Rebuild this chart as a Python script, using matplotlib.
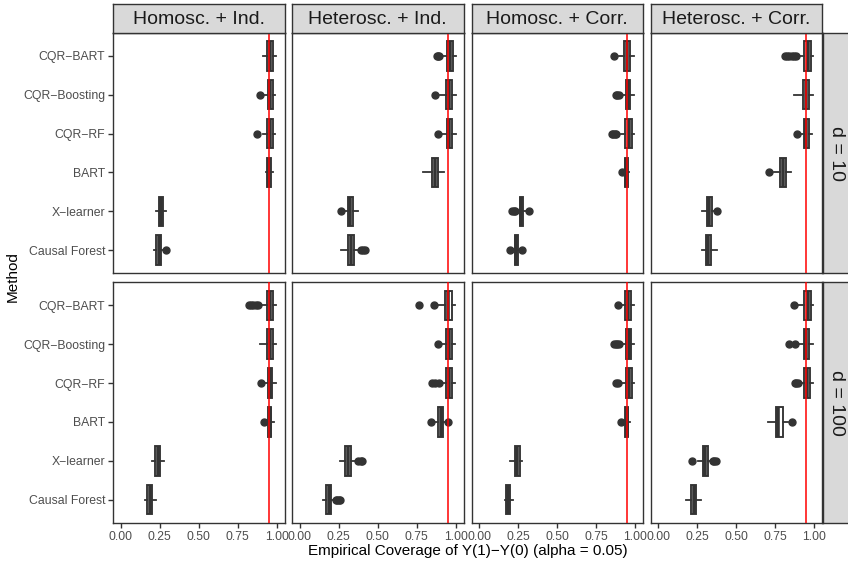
import matplotlib
matplotlib.use("Agg")
import matplotlib.pyplot as plt

plt.rcParams['font.family'] = ['Liberation Sans', 'DejaVu Sans']

methods = ["CQR−BART", "CQR−Boosting", "CQR−RF", "BART", "X−learner", "Causal Forest"]
columns = ["Homosc. + Ind.", "Heterosc. + Ind.", "Homosc. + Corr.", "Heterosc. + Corr."]
rows = ["d = 10", "d = 100"]
target = 0.95

# (whisker low, q1, median, q3, whisker high) per method, in order of `methods`
d10_hom_ind = [(0.91, 0.94, 0.958, 0.976, 0.995), (0.91, 0.944, 0.96, 0.976, 0.99),
               (0.91, 0.94, 0.958, 0.976, 0.99), (0.933, 0.94, 0.95, 0.963, 0.975),
               (0.224, 0.246, 0.258, 0.269, 0.29), (0.212, 0.229, 0.243, 0.258, 0.276)]
d10_hom_ind_out = [[], [0.893], [0.876], [], [], [0.29]]

d10_het_ind = [(0.91, 0.946, 0.962, 0.981, 0.999), (0.90, 0.94, 0.957, 0.974, 0.999),
               (0.91, 0.942, 0.96, 0.976, 0.999), (0.792, 0.846, 0.865, 0.884, 0.927),
               (0.285, 0.306, 0.322, 0.342, 0.375), (0.263, 0.31, 0.328, 0.347, 0.379)]
d10_het_ind_out = [[0.878, 0.885, 0.892], [0.867], [0.888], [], [0.263], [0.395, 0.405, 0.418]]

d10_hom_corr = [(0.896, 0.93, 0.95, 0.969, 0.992), (0.917, 0.939, 0.955, 0.969, 0.99),
                (0.909, 0.937, 0.957, 0.977, 0.994), (0.93, 0.935, 0.944, 0.952, 0.958),
                (0.245, 0.258, 0.268, 0.279, 0.30), (0.206, 0.228, 0.238, 0.249, 0.27)]
d10_hom_corr_out = [[0.864], [0.878, 0.886, 0.894], [0.85, 0.86, 0.87, 0.88], [0.913],
                    [0.21, 0.22, 0.23, 0.322], [0.194, 0.277]]

d10_het_corr = [(0.898, 0.937, 0.958, 0.979, 0.994), (0.87, 0.926, 0.948, 0.967, 0.99),
                (0.909, 0.934, 0.95, 0.967, 0.988), (0.744, 0.778, 0.80, 0.819, 0.851),
                (0.282, 0.314, 0.328, 0.342, 0.363), (0.282, 0.303, 0.318, 0.335, 0.378)]
d10_het_corr_out = [[0.81, 0.825, 0.84, 0.855, 0.87, 0.885], [], [0.887], [0.71], [0.374], []]

d100_hom_ind = [(0.89, 0.938, 0.958, 0.976, 0.993), (0.895, 0.938, 0.958, 0.976, 0.998),
                (0.923, 0.942, 0.958, 0.972, 0.998), (0.934, 0.944, 0.955, 0.966, 0.98),
                (0.201, 0.222, 0.238, 0.252, 0.278), (0.154, 0.171, 0.185, 0.199, 0.229)]
d100_hom_ind_out = [[0.82, 0.835, 0.85, 0.865, 0.88], [], [0.902], [0.921], [], []]

d100_het_ind = [(0.888, 0.931, 0.952, 0.974, 0.995), (0.91, 0.94, 0.96, 0.978, 0.995),
                (0.91, 0.94, 0.958, 0.974, 0.995), (0.857, 0.888, 0.903, 0.918, 0.942),
                (0.259, 0.291, 0.31, 0.328, 0.358), (0.15, 0.171, 0.188, 0.203, 0.22)]
d100_het_ind_out = [[0.766, 0.861], [0.888], [0.85, 0.87, 0.89], [0.841, 0.95],
                    [0.375, 0.39, 0.40], [0.23, 0.24, 0.25, 0.26]]

d100_hom_corr = [(0.913, 0.937, 0.955, 0.971, 0.994), (0.91, 0.941, 0.958, 0.973, 0.99),
                 (0.91, 0.939, 0.958, 0.977, 0.994), (0.924, 0.937, 0.945, 0.954, 0.967),
                 (0.20, 0.228, 0.243, 0.258, 0.275), (0.162, 0.17, 0.182, 0.194, 0.213)]
d100_hom_corr_out = [[0.892], [0.865, 0.875, 0.885, 0.895], [0.88, 0.89], [0.909], [], []]

d100_het_corr = [(0.898, 0.937, 0.958, 0.977, 0.99), (0.887, 0.932, 0.95, 0.968, 0.994),
                 (0.902, 0.937, 0.955, 0.973, 0.99), (0.705, 0.755, 0.77, 0.797, 0.834),
                 (0.252, 0.284, 0.30, 0.316, 0.342), (0.177, 0.209, 0.226, 0.243, 0.271)]
d100_het_corr_out = [[0.872], [0.838, 0.877], [0.875, 0.885, 0.895], [0.859],
                     [0.213, 0.35, 0.36, 0.37], []]

panels = [[(d10_hom_ind, d10_hom_ind_out), (d10_het_ind, d10_het_ind_out),
           (d10_hom_corr, d10_hom_corr_out), (d10_het_corr, d10_het_corr_out)],
          [(d100_hom_ind, d100_hom_ind_out), (d100_het_ind, d100_het_ind_out),
           (d100_hom_corr, d100_hom_corr_out), (d100_het_corr, d100_het_corr_out)]]

W, H = 848, 565
fig = plt.figure(figsize=(W / 100, H / 100), dpi=100)


def rect(x0, y0, w, h):
    return [x0 / W, 1 - (y0 + h) / H, w / W, h / H]


col_left = [113, 292, 471.5, 650.5]
col_w = 171.5
row_top = [32.5, 282]
row_h = 241
dark = "#333333"
grey_txt = "#4D4D4D"

ypos = list(range(len(methods), 0, -1))

for r in range(2):
    for c in range(4):
        ax = fig.add_axes(rect(col_left[c], row_top[r], col_w, row_h))
        stats, outs = panels[r][c]
        bx = []
        for (lo, q1, med, q3, hi), fl in zip(stats, outs):
            bx.append(dict(whislo=lo, q1=q1, med=med, q3=q3, whishi=hi, fliers=fl))
        ax.bxp(bx, positions=ypos, widths=0.76, orientation='horizontal',
               patch_artist=True, showcaps=False,
               boxprops=dict(facecolor="white", edgecolor=dark, linewidth=1.35),
               whiskerprops=dict(color=dark, linewidth=1.3),
               medianprops=dict(color=dark, linewidth=2.6),
               flierprops=dict(marker="o", markerfacecolor=dark, markeredgecolor=dark,
                               markersize=5))
        ax.axvline(target, color="red", linewidth=1.1, zorder=10)
        ax.set_xlim(-0.05, 1.05)
        ax.set_ylim(0.4, 6.6)
        ax.set_xticks([0, 0.25, 0.5, 0.75, 1.0])
        ax.set_xticklabels(["0.00", "0.25", "0.50", "0.75", "1.00"])
        ax.set_yticks(ypos)
        ax.set_yticklabels(methods)
        ax.tick_params(colors=dark, labelcolor=grey_txt, labelsize=8.8, length=3.5,
                       width=1.0, pad=2)
        if c > 0:
            ax.tick_params(axis='y', left=False, labelleft=False)
        if r == 0:
            ax.tick_params(axis='x', bottom=False, labelbottom=False)
        for s in ax.spines.values():
            s.set_color(dark)
            s.set_linewidth(1.0)

        if r == 0:
            sx = fig.add_axes(rect(col_left[c], 3.5, col_w, 29))
            sx.set_facecolor("#D9D9D9")
            sx.set_xticks([])
            sx.set_yticks([])
            for s in sx.spines.values():
                s.set_color(dark)
                s.set_linewidth(1.0)
            sx.text(0.5, 0.45, columns[c], ha="center", va="center", fontsize=14,
                    color="#1A1A1A", transform=sx.transAxes)
        if c == 3:
            sy = fig.add_axes(rect(823, row_top[r], 30, row_h))
            sy.set_facecolor("#D9D9D9")
            sy.set_xticks([])
            sy.set_yticks([])
            for s in sy.spines.values():
                s.set_color(dark)
                s.set_linewidth(1.0)
            sy.text(0.45, 0.5, rows[r], ha="center", va="center", fontsize=14,
                    rotation=270, color="#1A1A1A", transform=sy.transAxes)

fig.text((113 + 822) / 2 / W, 1 - 551 / H, "Empirical Coverage of Y(1)−Y(0) (alpha = 0.05)",
         ha="center", va="center", fontsize=11)
fig.text(13 / W, 1 - 277 / H, "Method", ha="center", va="center", fontsize=11,
         rotation=90)

fig.savefig("out.png", dpi=100)
